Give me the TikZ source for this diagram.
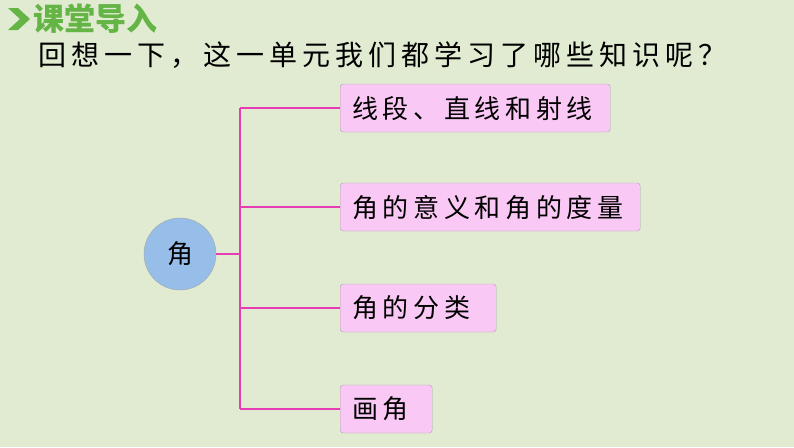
\documentclass[tikz,border=0pt]{standalone}
\usepackage{fontspec}
\newfontfamily\cjk{Noto Sans CJK SC}
\newfontfamily\cjkwide[LetterSpace=18]{Noto Sans CJK SC}
\definecolor{bggreen}{RGB}{225,235,210}
\definecolor{headgreen}{RGB}{100,180,70}
\definecolor{linkpink}{RGB}{230,60,180}
\definecolor{boxpink}{RGB}{250,200,245}
\definecolor{rootblue}{RGB}{150,190,232}
\tikzset{
  topic/.style={draw=gray!70, fill=boxpink, rounded corners=3pt, inner sep=0pt,
    anchor=west, minimum height=48pt, font=\cjkwide\fontsize{26}{30}\selectfont, text depth=2pt},
  link/.style={draw=linkpink, line width=1.6pt}
}
\begin{document}
\begin{tikzpicture}[x=1pt,y=-1pt]
  \fill[bggreen] (0,0) rectangle (794,447);
  \useasboundingbox (0,0) rectangle (794,447);
  % header
  \fill[headgreen] (8,8) -- (18,8) -- (30,19) -- (18,30) -- (8,30) -- (20,19) -- cycle;
  \node[anchor=west, text=headgreen, font=\cjk\bfseries\fontsize{31}{34}\selectfont, inner sep=0pt] (head) at (33,19) {课堂导入};
  \node[anchor=west, font=\cjkwide\fontsize{28}{32}\selectfont, inner sep=0pt] (ask) at (38,55) {回想一下，这一单元我们都学习了哪些知识呢？};
  % root
  \node[circle, draw=gray!70, fill=rootblue, minimum size=72pt, inner sep=0pt, font=\cjk\fontsize{26}{30}\selectfont] (jiao) at (180,254) {角};
  % topics
  \node[topic, text width=270pt, align=left] (t1) at (340,108) {\hspace*{12pt}线段、直线和射线};
  \node[topic, text width=300pt, align=left] (t2) at (340,207) {\hspace*{12pt}角的意义和角的度量};
  \node[topic, text width=156pt, align=left] (t3) at (340,308) {\hspace*{12pt}角的分类};
  \node[topic, text width=92pt, align=left] (t4) at (340,409) {\hspace*{12pt}画角};
  \coordinate (hub) at (240,250);
  \draw[link] (jiao.east) -- (jiao.east -| hub);
  \draw[link] (hub |- t1.west) -- (hub |- t4.west);
  \foreach \t in {t1,t2,t3,t4}
    \draw[link] (hub |- \t.west) -- (\t.west);
\end{tikzpicture}
\end{document}
